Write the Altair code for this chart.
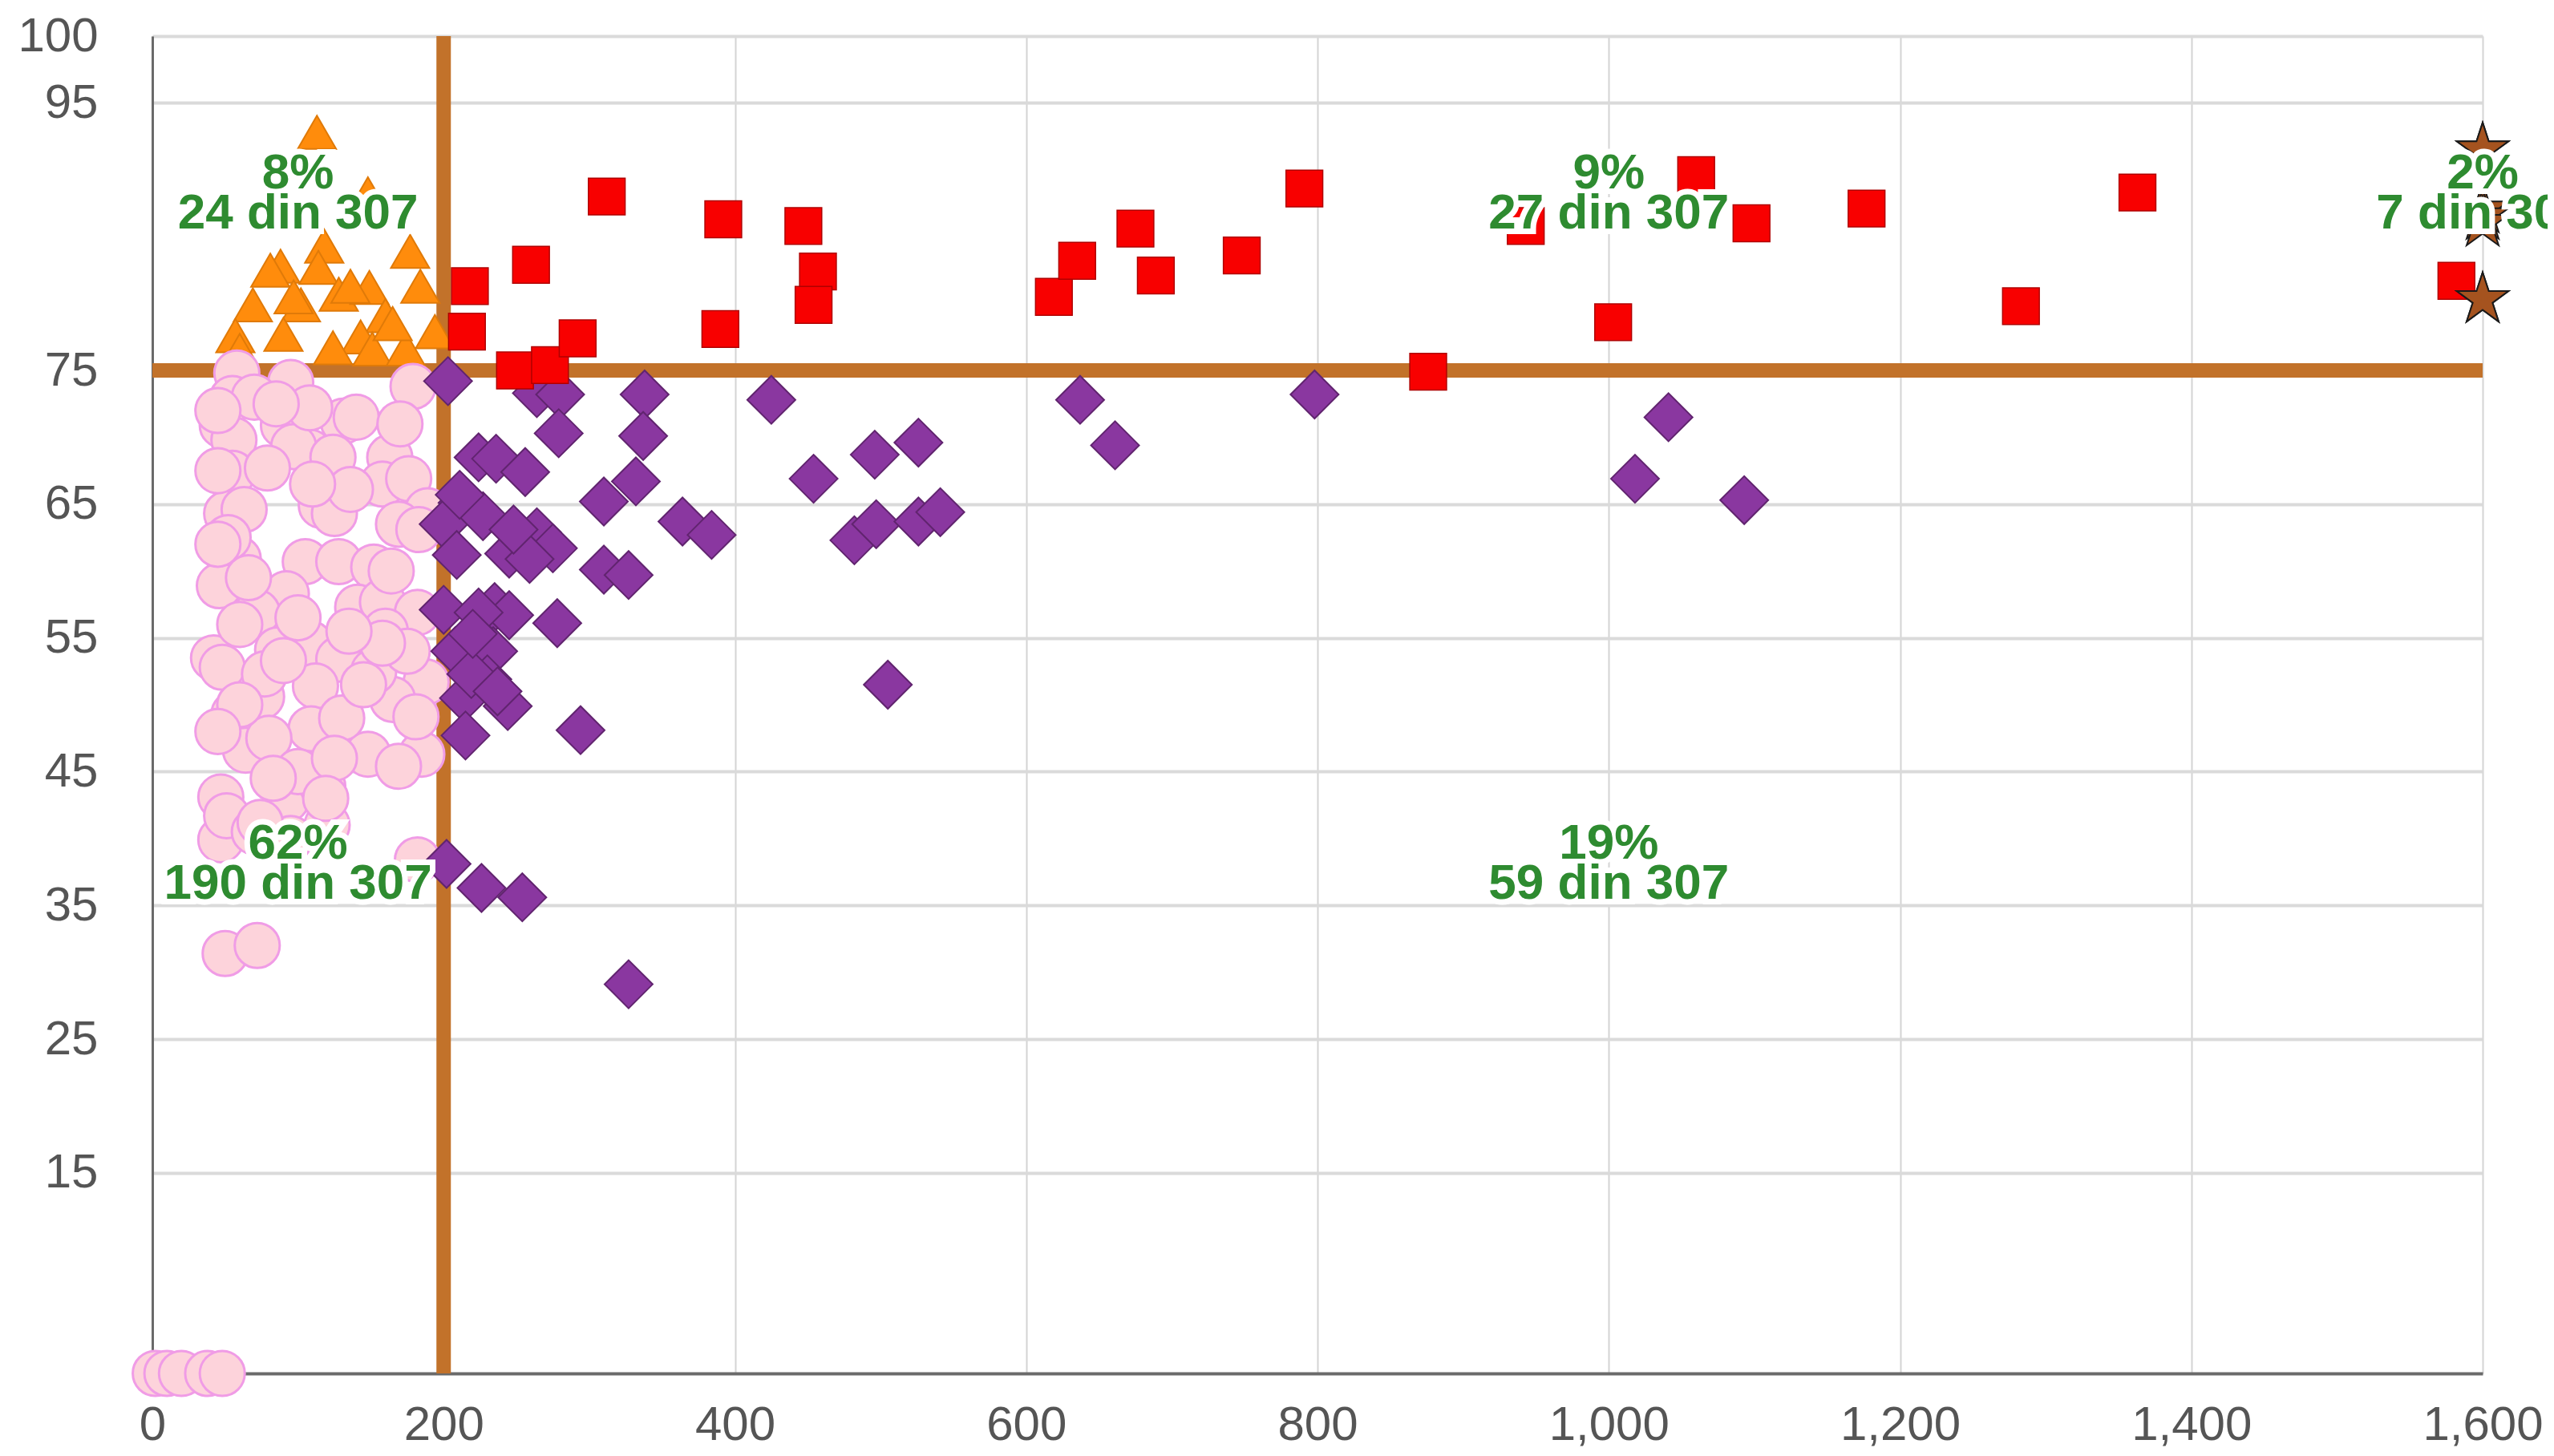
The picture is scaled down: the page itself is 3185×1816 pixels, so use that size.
import altair as alt
import pandas as pd

# ---------------- data ----------------
# pink circles (bottom-left quadrant)
pink_x = [58, 95, 179, 55, 48, 90, 131, 56, 108, 97, 124, 163, 55, 79, 158, 176,
          51, 63, 116, 125, 189, 169, 183, 59, 105, 128, 152, 46, 92, 72, 141, 158,
          182, 86, 108, 152, 42, 128,
          48, 75, 112, 188, 165, 56, 109, 64, 148, 185, 47, 92, 117, 47,
          152, 51, 182, 50, 72, 77, 90,
          70, 95, 120,
          70, 60, 160, 80, 130, 100, 125,
          175, 169, 181, 52, 136, 108, 74, 119, 158, 164, 140, 66, 100, 135, 83, 145,
          110, 170, 85, 60, 45, 45, 45, 45,
          2, 10, 20, 38, 48]
pink_y = [74.8, 74.1, 73.8, 72.9, 70.9, 70.9, 71.2, 69.8, 68.9, 69.3, 68.5, 68.5, 67.3, 67.7, 66.5, 66.9,
          64.3, 64.6, 64.9, 64.3, 64.5, 63.5, 63.1, 60.9, 60.7, 60.7, 60.3, 58.9, 58.3, 56.9, 57.3, 57.7,
          56.9, 54.1, 54.6, 54.0, 53.5, 53.4,
          52.8, 50.6, 51.4, 51.7, 50.4, 49.3, 48.2, 46.6, 46.3, 46.3, 43.1, 42.9, 43.9, 39.9,
          52.5, 41.7, 38.4, 31.4, 32.0, 52.3, 53.3,
          40.5, 40.0, 41.0,
          73.0, 56.0, 55.5, 47.5, 49.0, 45.0, 46.0,
          54.0, 45.4, 49.1, 62.5, 66.1, 72.2, 41.2, 43.0, 54.6, 60.0, 71.5, 59.5, 56.5, 55.5, 44.5, 51.5,
          66.5, 71.0, 72.5, 50.0, 48.0, 62.0, 67.5, 72.0,
          0, 0, 0, 0, 0]

# orange triangles (top-left quadrant)
tri_x = [113, 148, 118, 177, 88, 81, 114, 128, 149, 184, 69, 102, 160, 57, 90, 143,
         194, 124, 151, 174, 136, 97, 165, 60]
tri_y = [92.8, 88.2, 84.3, 83.9, 82.8, 82.5, 82.7, 80.7, 81.2, 81.3, 79.9, 79.9, 79.1, 77.6, 77.7, 77.5,
         77.9, 76.7, 76.6, 76.6, 81.3, 80.5, 78.5, 76.5]

# red squares (top-right quadrant)
sq_x = [218, 216, 249, 260, 273, 292, 312, 392, 390, 447, 457, 454, 619, 635, 675, 689,
        748, 791, 876, 943, 1003, 1060, 1098, 1177, 1283, 1363, 1582]
sq_y = [81.3, 77.9, 75.0, 82.9, 75.4, 77.4, 88.0, 86.3, 78.1, 85.8, 82.4, 79.9, 80.5, 83.2, 85.6, 82.1,
        83.6, 88.6, 74.9, 85.8, 78.6, 89.6, 86.0, 87.1, 79.8, 88.3, 81.7]

# purple diamonds (bottom-right quadrant)
dia_x = [203, 264, 280, 338, 425, 279, 337, 224, 236, 256, 332, 310, 213, 200, 227, 364,
         384, 264, 275, 245, 259, 209, 310, 327, 200, 235, 245, 278, 208, 234, 230, 214,
         244, 215, 294, 219, 202, 226, 254, 327,
         637, 661, 454, 496, 526, 482, 497, 526, 541, 505,
         798, 1018, 1041, 1093,
         224, 237, 211, 248, 220]
dia_y = [74.2, 73.3, 73.2, 73.2, 72.8, 70.3, 70.1, 68.5, 68.4, 67.4, 66.7, 65.2, 65.1, 63.5, 64.1, 63.7,
         62.7, 62.9, 61.7, 61.3, 60.9, 61.2, 60.1, 59.7, 57.1, 57.3, 56.7, 56.1, 54.0, 54.0, 51.9, 50.5,
         49.9, 47.7, 48.1, 52.3, 38.1, 36.3, 35.6, 29.1,
         72.8, 69.4, 66.9, 68.7, 69.6, 62.3, 63.5, 63.7, 64.4, 51.5,
         73.2, 66.9, 71.5, 65.3,
         56.9, 51.0, 65.7, 63.1, 55.3]

# brown stars (capped at the right edge)
star_x = [1600, 1600, 1600, 1600, 1600, 1600, 1600]
star_y = [91.5, 91.5, 87.0, 86.5, 86.0, 80.3, 80.3]

# quadrant annotations
lab_x = [100, 1000, 100, 1000, 1600]
lab_y = [88.25, 88.25, 38.1, 38.1, 88.25]
lab_pct = ["8%", "9%", "62%", "19%", "2%"]
lab_cnt = ["24 din 307", "27 din 307", "190 din 307", "59 din 307", "7 din 307"]

# thresholds and axis ticks
thr_x = [200]
thr_y = [75]
x_ticks = [0, 200, 400, 600, 800, 1000, 1200, 1400, 1600]
y_ticks = [15, 25, 35, 45, 55, 65, 75, 95, 100]

# ---------------- chart ----------------
FONT = "Liberation Sans"
W, H = 2906, 1668
STAR = ("M0,-1L0.2245,-0.309L0.9511,-0.309L0.3633,0.118L0.5878,0.809L0,0.382"
        "L-0.5878,0.809L-0.3633,0.118L-0.9511,-0.309L-0.2245,-0.309Z")

xs = alt.Scale(domain=[0, 1600], nice=False, zero=False)
ys = alt.Scale(domain=[0, 100], nice=False, zero=False)

xaxis = alt.Axis(values=x_ticks, labelExpr="format(datum.value, ',')", title=None, grid=True,
                 gridColor="#d4d4d4", gridWidth=2, domainColor="#6a6a6a", domainWidth=4,
                 ticks=False, tickSize=0, labelFontSize=60, labelFont=FONT, labelColor="#555555",
                 labelPadding=35, labelFlush=False, labelOverlap=False, labelLimit=0)
yaxis = alt.Axis(values=y_ticks, labelExpr="format(datum.value, 'd')", title=None, grid=True,
                 gridColor="#dadada", gridWidth=4, domainColor="#6a6a6a", domainWidth=3,
                 ticks=False, tickSize=0, labelFontSize=60, labelFont=FONT, labelColor="#555555",
                 labelPadding=68, labelFlush=False, labelOverlap=False, labelLimit=0)

X = alt.X("x:Q", scale=xs, axis=xaxis)
Y = alt.Y("y:Q", scale=ys, axis=yaxis)


def pts(xv, yv):
    return pd.DataFrame({"x": xv, "y": yv})


vrule = alt.Chart(pd.DataFrame({"x": thr_x})).mark_rule(color="#C2722A", strokeWidth=18).encode(x=X)
hrule = alt.Chart(pd.DataFrame({"y": thr_y})).mark_rule(color="#C2722A", strokeWidth=18).encode(y=Y)

tri = alt.Chart(pts(tri_x, tri_y)).mark_point(
    shape="triangle-up", filled=True, fill="#FF8C0C", stroke="#E07A08", strokeWidth=2,
    size=2300, opacity=1, clip=False).encode(x=X, y=Y)
pink = alt.Chart(pts(pink_x, pink_y)).mark_point(
    shape="circle", filled=True, fill="#FDD3DB", stroke="#F09CE6", strokeWidth=3,
    size=3150, opacity=1, clip=False).encode(x=X, y=Y)
dia = alt.Chart(pts(dia_x, dia_y)).mark_point(
    shape="diamond", filled=True, fill="#8A37A0", stroke="#61246F", strokeWidth=2,
    size=3600, opacity=1, clip=False).encode(x=X, y=Y)
sq = alt.Chart(pts(sq_x, sq_y)).mark_point(
    shape="square", filled=True, fill="#F80000", stroke="#B00000", strokeWidth=1.5,
    size=2100, opacity=1, clip=False).encode(x=X, y=Y)
star = alt.Chart(pts(star_x, star_y)).mark_point(
    shape=STAR, filled=True, fill="#A5531F", stroke="#1a1a1a", strokeWidth=2,
    size=4600, opacity=1, clip=False).encode(x=X, y=Y)

labdf = pd.DataFrame({"x": lab_x, "y": lab_y, "pct": lab_pct, "cnt": lab_cnt})


def label_layer(field, dy, halo):
    if halo:
        m = alt.Chart(labdf).mark_text(font=FONT, fontSize=62, fontWeight="bold", dy=dy,
                                       fill="white", stroke="white", strokeWidth=14,
                                       baseline="middle", align="center")
    else:
        m = alt.Chart(labdf).mark_text(font=FONT, fontSize=62, fontWeight="bold", dy=dy,
                                       fill="#2E8B30", baseline="middle", align="center")
    return m.encode(x=X, y=Y, text=alt.Text(field + ":N"))


chart = alt.layer(
    vrule, hrule, tri, pink, dia, sq, star,
    label_layer("pct", -25, True), label_layer("cnt", 25, True),
    label_layer("pct", -25, False), label_layer("cnt", 25, False),
).properties(
    width=W, height=H,
    autosize=alt.AutoSizeParams(type="none"),
    padding={"left": 182, "top": 37, "right": 81, "bottom": 95},
).configure_view(stroke=None).configure(background="white")

chart.save("out.html", embed_options={"renderer": "svg", "actions": False})
